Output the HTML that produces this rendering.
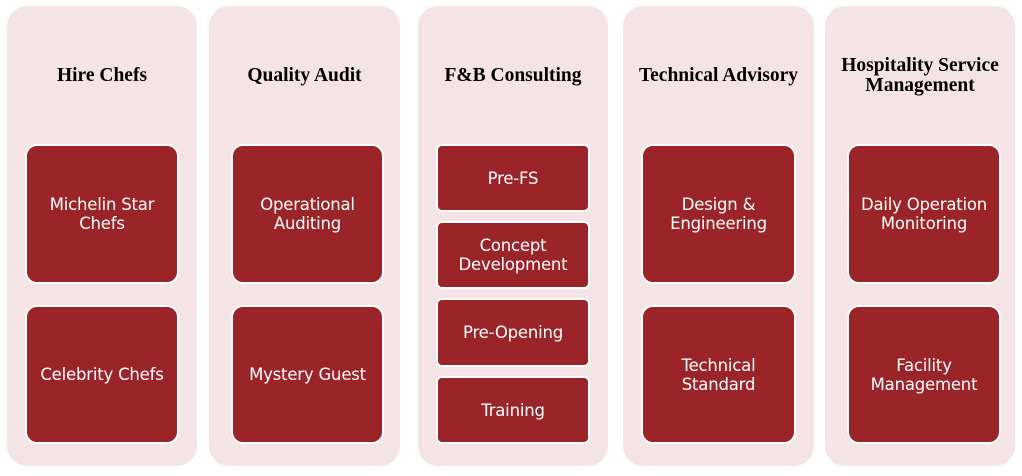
<!DOCTYPE html>
<html><head><meta charset="utf-8"><style>
html,body{margin:0;padding:0;background:#fff;width:1022px;height:476px;overflow:hidden}
.col{position:absolute;top:6px;height:460px;background:#f5e4e5;border-radius:20px}
.t{position:absolute;left:0;right:0;text-align:center;font:bold 19.5px/20px "Liberation Serif",serif;color:#000}
.b{position:absolute;background:#9a2427;border:2px solid #fff;border-radius:12px;box-sizing:border-box;display:flex;align-items:center;justify-content:center;text-align:center;color:#fff;font:16.5px/19px "DejaVu Sans","Liberation Sans",sans-serif;letter-spacing:-0.2px}
.s{border-radius:6px}
</style></head><body>
<div class="col" style="left:7px;width:190px"><div class="t" style="top:60px">Hire Chefs</div></div>
<div class="col" style="left:209px;width:191px"><div class="t" style="top:60px">Quality Audit</div></div>
<div class="col" style="left:418px;width:190px"><div class="t" style="top:60px">F&amp;B Consulting</div></div>
<div class="col" style="left:623px;width:191px"><div class="t" style="top:60px">Technical Advisory</div></div>
<div class="col" style="left:825px;width:190px"><div class="t" style="top:50px">Hospitality Service<br>Management</div></div>

<div class="b" style="left:25px;top:144px;width:154px;height:140px">Michelin Star<br>Chefs</div>
<div class="b" style="left:25px;top:305px;width:154px;height:139px">Celebrity Chefs</div>
<div class="b" style="left:231px;top:144px;width:153px;height:140px">Operational<br>Auditing</div>
<div class="b" style="left:231px;top:305px;width:153px;height:139px">Mystery Guest</div>

<div class="b s" style="left:436px;top:144px;width:154px;height:68px">Pre-FS</div>
<div class="b s" style="left:436px;top:221px;width:154px;height:68px">Concept<br>Development</div>
<div class="b s" style="left:436px;top:298px;width:154px;height:69px">Pre-Opening</div>
<div class="b s" style="left:436px;top:376px;width:154px;height:68px">Training</div>

<div class="b" style="left:641px;top:144px;width:155px;height:140px">Design &amp;<br>Engineering</div>
<div class="b" style="left:641px;top:305px;width:155px;height:139px">Technical<br>Standard</div>
<div class="b" style="left:847px;top:144px;width:154px;height:140px">Daily Operation<br>Monitoring</div>
<div class="b" style="left:847px;top:305px;width:154px;height:139px">Facility<br>Management</div>
</body></html>
